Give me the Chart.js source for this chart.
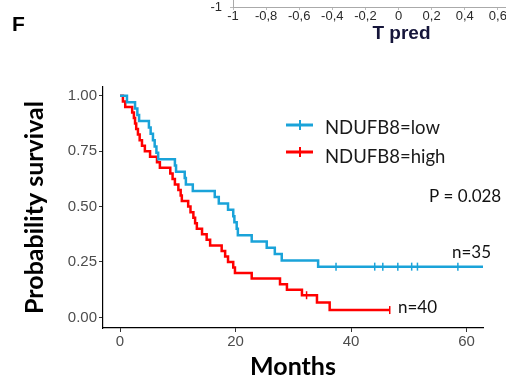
<!DOCTYPE html>
<html lang="en">
<head>
<meta charset="UTF-8">
<title>NDUFB8 survival</title>
<script src="https://cdn.jsdelivr.net/npm/chart.js"></script>
<style>
  body { margin: 0; background: #fff; width: 506px; height: 382px; overflow: hidden; position: relative; }
  #panel { position: absolute; left: 12px; top: 12px; line-height: 1; font: bold 21px "Liberation Sans", Arial, sans-serif; color: #000; }
  #kmChart { position: absolute; left: 0; top: 0; }
  #predChart { position: absolute; left: 0; top: -20px; }
</style>
</head>
<body>
<canvas id="kmChart" width="506" height="382"></canvas>
<canvas id="predChart" width="570" height="65"></canvas>
<div id="panel">F</div>
<script>
// Kaplan-Meier steps, NDUFB8=low (n=35)
const lowTimes = [0, 1.2, 2.6, 3.0, 3.3, 5.0, 5.3, 5.7, 6.0, 6.3, 6.6, 9.5, 9.7, 11.2, 11.4, 12.6,
                  16.4, 17.1, 18.7, 19.6, 19.8, 20.2, 20.4, 22.8, 25.4, 26.8, 28.0, 34.3, 62.85];
const lowSurv = [1, 0.971, 0.943, 0.914, 0.886, 0.857, 0.829, 0.800, 0.771, 0.743, 0.714, 0.686, 0.657, 0.629, 0.600, 0.571,
                 0.543, 0.514, 0.486, 0.457, 0.429, 0.400, 0.371, 0.343, 0.314, 0.286, 0.257, 0.229, 0.229];
const lowCensorTimes = [37.4, 44.1, 45.5, 48.1, 50.5, 51.5, 58.5];
const lowCensorSurv = [0.229, 0.229, 0.229, 0.229, 0.229, 0.229, 0.229];

// NDUFB8=high (n=40)
const highTimes = [0, 0.5, 0.9, 2.1, 2.4, 2.6, 2.8, 3.1, 3.4, 3.8, 4.3, 5.2, 6.4, 6.9, 8.7, 9.1, 9.5, 10.1, 10.5, 10.7,
                   11.8, 12.2, 12.7, 13.0, 13.3, 14.2, 15.0, 15.6, 17.6, 18.2, 18.7, 19.6, 19.9, 22.8, 27.7, 28.9, 31.5, 34.1, 36.3, 46.7];
const highSurv = [1, 0.975, 0.95, 0.925, 0.9, 0.875, 0.85, 0.825, 0.8, 0.775, 0.75, 0.725, 0.7, 0.675, 0.65, 0.625, 0.6, 0.575, 0.55, 0.525,
                  0.5, 0.475, 0.45, 0.425, 0.4, 0.375, 0.35, 0.325, 0.3, 0.275, 0.25, 0.225, 0.2, 0.175, 0.15, 0.125, 0.1, 0.067, 0.033, 0.033];
const highCensorTimes = [32.3, 46.7];
const highCensorSurv = [0.1, 0.033];

const monthTicks = [0, 20, 40, 60];
const survTicks = [0, 0.25, 0.5, 0.75, 1];
const predTicks = [-1, -0.8, -0.6, -0.4, -0.2, 0, 0.2, 0.4, 0.6, 0.8, 1];

const BLUE = '#1aa3d9';
const RED = '#ff0000';

function pts(xs, ys) {
    return xs.map((x, i) => ({ x: x, y: ys[i] }));
}

// legend + text notes drawn on top of the plot
const notes = {
    id: 'notes',
    afterDraw(chart) {
        const ctx = chart.ctx;
        ctx.save();
        const items = [
            { color: BLUE, text: 'NDUFB8=low', y: 125, base: 134 },
            { color: RED, text: 'NDUFB8=high', y: 152, base: 163 }
        ];
        items.forEach(it => {
            ctx.strokeStyle = it.color;
            ctx.lineWidth = 3;
            ctx.beginPath();
            ctx.moveTo(286, it.y);
            ctx.lineTo(313, it.y);
            ctx.stroke();
            ctx.lineWidth = 2;
            ctx.beginPath();
            ctx.moveTo(300, it.y - 5);
            ctx.lineTo(300, it.y + 5);
            ctx.stroke();
            ctx.fillStyle = '#1a1a1a';
            ctx.font = '18.5px Lato';
            ctx.textAlign = 'left';
            ctx.textBaseline = 'alphabetic';
            ctx.fillText(it.text, 325, it.base);
        });
        ctx.font = '17px Lato';
        ctx.fillStyle = '#111';
        ctx.fillText('P = 0.028', 429, 202);
        ctx.fillText('n=35', 452, 258);
        ctx.fillText('n=40', 398, 313);
        ctx.restore();
    }
};

function drawCharts() {
    new Chart(document.getElementById('kmChart'), {
        type: 'line',
        data: {
            datasets: [
                {
                    label: 'NDUFB8=low',
                    data: pts(lowTimes, lowSurv),
                    borderColor: BLUE,
                    borderWidth: 2.5,
                    stepped: true,
                    pointRadius: 0,
                    fill: false
                },
                {
                    label: 'NDUFB8=high',
                    data: pts(highTimes, highSurv),
                    borderColor: RED,
                    borderWidth: 2.5,
                    stepped: true,
                    pointRadius: 0,
                    fill: false
                },
                {
                    label: 'low censored',
                    data: pts(lowCensorTimes, lowCensorSurv),
                    showLine: false,
                    pointStyle: 'line',
                    pointRotation: 90,
                    pointRadius: 4,
                    pointBorderColor: BLUE,
                    pointBorderWidth: 1.5
                },
                {
                    label: 'high censored',
                    data: pts(highCensorTimes, highCensorSurv),
                    showLine: false,
                    pointStyle: 'line',
                    pointRotation: 90,
                    pointRadius: 4,
                    pointBorderColor: RED,
                    pointBorderWidth: 1.5
                }
            ]
        },
        options: {
            responsive: false,
            animation: false,
            events: [],
            layout: { padding: { top: 87, right: 23, bottom: 0, left: 0 }, autoPadding: false },
            plugins: { legend: { display: false }, tooltip: { enabled: false } },
            scales: {
                x: {
                    type: 'linear',
                    min: -2.95,
                    max: 62.85,
                    afterBuildTicks: s => { s.ticks = monthTicks.map(v => ({ value: v })); },
                    afterFit: s => { s.height = 54; },
                    grid: { drawOnChartArea: false, tickLength: 4, color: '#333' },
                    border: { color: '#000', width: 1.2 },
                    ticks: { color: '#4d4d4d', font: { family: 'Liberation Sans', size: 15 }, padding: 1, maxRotation: 0 },
                    title: { display: true, text: 'Months', color: '#000',
                             font: { family: 'Lato', size: 25, weight: 'bold' }, padding: { top: 0, bottom: 0 } }
                },
                y: {
                    min: -0.048,
                    max: 1.04,
                    afterBuildTicks: s => { s.ticks = survTicks.map(v => ({ value: v })); },
                    afterFit: s => { s.width = 103; },
                    grid: { drawOnChartArea: false, tickLength: 4, color: '#333' },
                    border: { color: '#000', width: 1.2 },
                    ticks: { color: '#4d4d4d', font: { family: 'Liberation Sans', size: 15 }, padding: 2,
                             callback: v => v.toFixed(2) },
                    title: { display: true, text: 'Probability survival', color: '#000',
                             font: { family: 'Lato', size: 25, weight: 'bold' }, padding: { top: 20, bottom: 0 } }
                }
            }
        },
        plugins: [notes]
    });

    // cut-off axis of the panel above (runs past the right edge of the window)
    new Chart(document.getElementById('predChart'), {
        type: 'scatter',
        data: { datasets: [] },
        options: {
            responsive: false,
            animation: false,
            events: [],
            layout: { padding: 0, autoPadding: false },
            plugins: { legend: { display: false }, tooltip: { enabled: false } },
            scales: {
                x: {
                    type: 'linear',
                    min: -1,
                    max: 1.036,
                    afterBuildTicks: s => { s.ticks = predTicks.map(v => ({ value: v })); },
                    afterFit: s => { s.height = 38; },
                    grid: { drawOnChartArea: false, tickLength: 3, color: '#bbb' },
                    border: { color: '#aaa' },
                    ticks: { color: '#2a2a2a', font: { family: 'Liberation Sans', size: 13, lineHeight: 1 }, padding: 0,
                             maxRotation: 0, autoSkip: false, callback: v => String(v).replace('.', ',') },
                    title: { display: true, text: 'T pred', color: '#15153a',
                             font: { family: 'Liberation Sans', size: 19, weight: 'bold', lineHeight: 1 },
                             padding: { top: 0, bottom: 2 } }
                },
                y: {
                    min: -1,
                    max: 0,
                    afterBuildTicks: s => { s.ticks = [{ value: -1 }]; },
                    afterFit: s => { s.width = 233; },
                    grid: { drawOnChartArea: false, tickLength: 3, color: '#bbb' },
                    border: { color: '#aaa' },
                    ticks: { color: '#2a2a2a', font: { family: 'Liberation Sans', size: 13 }, padding: 8 }
                }
            }
        }
    });
}

Promise.all([
    document.fonts.load('bold 25px Lato'),
    document.fonts.load('17px Lato'),
    document.fonts.load('15px "Liberation Sans"')
]).then(drawCharts, drawCharts);
</script>
</body>
</html>
